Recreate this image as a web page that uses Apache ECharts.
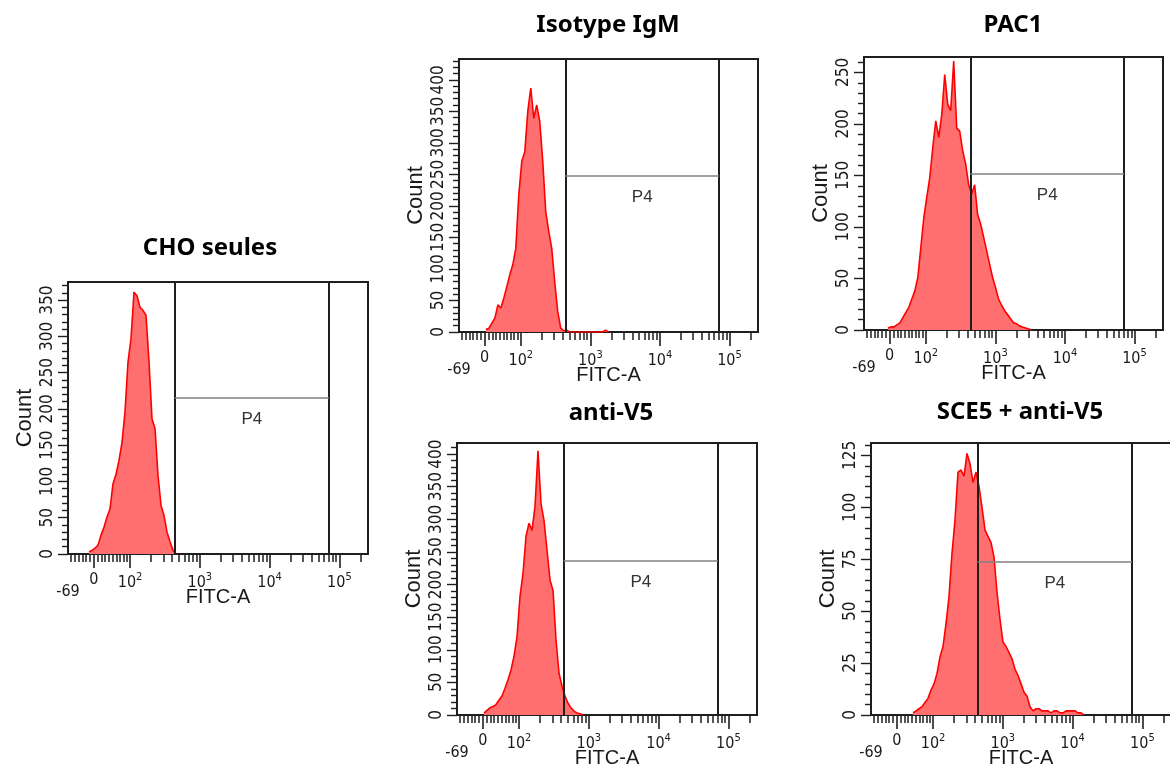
<!DOCTYPE html>
<html>
<head>
<meta charset="utf-8">
<title>FITC-A histograms</title>
<script src="https://cdn.jsdelivr.net/npm/echarts@6/dist/echarts.min.js"></script>
<style>
  html, body { margin: 0; padding: 0; background: #fff; }
  #main { width: 1170px; height: 776px; }
</style>
</head>
<body>
<div id="main"></div>
<script>
// titles of the five histograms
var panelTitles = ['CHO seules', 'Isotype IgM', 'PAC1', 'anti-V5', 'SCE5 + anti-V5'];

// y axis (Count) ranges and tick steps
var countMax = [375, 433, 265, 417, 131];
var countStep = [50, 50, 50, 50, 25];
var countMinorStep = [10, 10, 10, 10, 5];

// x axis (FITC-A) labels and ticks, in raw units
var xLabelValues = [-69, 0, 100, 1000, 10000, 100000];
var xDecades = [100, 1000, 10000, 100000];
var xMultiples = [2, 3, 4, 5, 6, 7, 8, 9];
var xLinearTicks = [-60, -50, -40, -30, -20, -10, 10, 20, 30, 40, 50, 60, 70, 80, 90];
var xLongTicks = [0, 100, 1000, 10000, 100000];

// histogram counts, one value per bin (bin width 0.043 on the display scale)
var binStep = 0.043;
var firstBin = [7, 9, 8, 9, 14];
var choCounts = [3, 5, 8, 12, 26, 37, 51, 62, 97, 110, 129, 154, 196, 265, 297, 361, 356, 340, 336, 329,
  265, 186, 173, 108, 67, 53, 30, 17, 5, 0];
var isoCounts = [4, 6, 14, 22, 43, 38, 54, 72, 91, 107, 133, 218, 271, 286, 350, 387, 339, 360, 334, 271,
  191, 160, 133, 80, 33, 6, 2, 3, 0, 0, 0, 0, 0, 0, 0, 0, 0, 0, 0, 0, 3, 0];
var pacCounts = [2, 3, 3, 5, 7, 12, 17, 22, 30, 38, 51, 80, 109, 129, 148, 177, 203, 187, 209, 248,
  219, 213, 261, 196, 193, 174, 161, 141, 132, 141, 112, 103, 90, 77, 64, 51, 41, 30, 24, 19,
  15, 11, 7, 6, 4, 3, 2, 1, 0];
var v5Counts = [3, 7, 11, 13, 16, 23, 29, 41, 54, 69, 90, 120, 182, 217, 274, 294, 283, 320, 405, 324,
  298, 253, 207, 191, 115, 64, 44, 29, 18, 11, 6, 3, 2, 0];
var sceCounts = [1, 2, 3, 4, 6, 8, 12, 15, 20, 28, 33, 44, 57, 78, 94, 117, 118, 115, 126, 121,
  112, 117, 110, 100, 89, 86, 83, 76, 59, 46, 35, 33, 30, 27, 22, 19, 15, 11, 9, 4,
  2, 3, 3, 2, 2, 2, 1, 2, 2, 1, 1, 2, 2, 2, 2, 1, 1, 0];
var allCounts = [choCounts, isoCounts, pacCounts, v5Counts, sceCounts];

// P4 gate (display scale) and the count level of its bar
var gateFrom = 2.64;
var gateTo = 4.85;
var gateLevel = [215, 248, 152, 236, 74];

// layout
var panelBoxes = [
  {left: 68, top: 282, width: 300, height: 272},
  {left: 459, top: 59, width: 299, height: 273},
  {left: 864, top: 57, width: 299, height: 273},
  {left: 457, top: 443, width: 300, height: 272},
  {left: 871, top: 443, width: 300, height: 272}
];
var titlePos = [[210, 248], [608, 25], [1013, 25], [611, 413], [1020, 412]];

var narrowFont = '"Liberation Sans Narrow", "DejaVu Sans Condensed", "Liberation Sans", Arial, sans-serif';
var plainFont = '"Liberation Sans", Arial, sans-serif';
var frameColor = '#1e1e1e';

// biexponential-like display transform (log above 100, near-linear around 0)
function toDisplay(v) {
  if (v >= 100) return Math.log10(v);
  var s = 80;
  var g = function (t) { return Math.log10((t + Math.sqrt(t * t + 4 * s * s)) / 2); };
  return 1.48 + (g(v) - g(0)) / (g(100) - g(0)) * 0.52;
}

var xMin = toDisplay(-69);
var xMax = 5.41;

function xMinorTickPos() {
  var list = xLinearTicks.map(toDisplay);
  xDecades.forEach(function (d) {
    xMultiples.forEach(function (m) {
      var u = toDisplay(m * d);
      if (u <= xMax) list.push(u);
    });
  });
  return list.filter(function (u) { return u >= xMin; });
}

var xLabelPos = xLabelValues.map(toDisplay);

function xLabelFormatter(val) {
  var best = 0;
  for (var i = 1; i < xLabelPos.length; i++) {
    if (Math.abs(xLabelPos[i] - val) < Math.abs(xLabelPos[best] - val)) best = i;
  }
  var v = xLabelValues[best];
  if (v < 0) return '{low|' + v + '}';
  if (v === 0) return '0';
  return '{base|10}{sup|' + Math.round(Math.log10(v)) + '}';
}

function rangeList(step, max, skip) {
  var list = [];
  for (var v = 0; v <= max; v += step) {
    if (!skip || v % skip !== 0) list.push(v);
  }
  return list;
}

function mainXAxis(i) {
  return {
    type: 'value', gridIndex: i, position: 'bottom', min: xMin, max: xMax,
    axisLine: {show: false, onZero: false},
    splitLine: {show: false},
    axisTick: {show: true, length: 8, customValues: xMinorTickPos(), lineStyle: {color: frameColor, width: 1.5}},
    axisLabel: {
      show: true, customValues: xLabelPos, formatter: xLabelFormatter, margin: 18,
      color: '#1a1a1a', fontFamily: narrowFont, fontSize: 16,
      rich: {
        base: {fontSize: 16, fontFamily: narrowFont, color: '#1a1a1a'},
        sup: {fontSize: 11, fontFamily: narrowFont, color: '#1a1a1a', padding: [0, 0, 10, 0]},
        low: {fontSize: 16, fontFamily: narrowFont, color: '#1a1a1a', padding: [12, 0, 0, 0]}
      }
    },
    name: 'FITC-A', nameLocation: 'middle', nameGap: 33, nameMoveOverlap: false,
    nameTextStyle: {fontFamily: plainFont, fontSize: 20, color: '#1a1a1a'}
  };
}

function longTickXAxis(i) {
  return {
    type: 'value', gridIndex: i, position: 'bottom', min: xMin, max: xMax,
    axisLine: {show: false, onZero: false},
    splitLine: {show: false},
    axisLabel: {show: false},
    axisTick: {show: true, length: 14, customValues: xLongTicks.map(toDisplay), lineStyle: {color: frameColor, width: 1.6}}
  };
}

function mainYAxis(i) {
  return {
    type: 'value', gridIndex: i, position: 'left', min: 0, max: countMax[i],
    axisLine: {show: false, onZero: false},
    splitLine: {show: false},
    axisTick: {show: true, length: 6, customValues: rangeList(countMinorStep[i], countMax[i], countStep[i]),
      lineStyle: {color: frameColor, width: 1.4}},
    axisLabel: {
      show: true, customValues: rangeList(countStep[i], countMax[i]), rotate: 90, margin: 12,
      color: '#1a1a1a', fontFamily: narrowFont, fontSize: 17
    },
    name: 'Count', nameLocation: 'middle', nameGap: 32, nameMoveOverlap: false,
    nameTextStyle: {fontFamily: plainFont, fontSize: 22, color: '#1a1a1a'}
  };
}

function longTickYAxis(i) {
  return {
    type: 'value', gridIndex: i, position: 'left', min: 0, max: countMax[i],
    axisLine: {show: false, onZero: false},
    splitLine: {show: false},
    axisLabel: {show: false},
    axisTick: {show: true, length: 10, customValues: rangeList(countStep[i], countMax[i]),
      lineStyle: {color: frameColor, width: 1.4}}
  };
}

// histogram + P4 gate
function histSeries(i) {
  var data = allCounts[i].map(function (c, j) {
    return [xMin + (firstBin[i] + j) * binStep, c];
  });
  return {
    type: 'line', xAxisIndex: 2 * i, yAxisIndex: 2 * i,
    symbol: 'none', silent: true,
    lineStyle: {color: '#ff0000', width: 1.6},
    areaStyle: {color: '#ff6f6f', opacity: 1},
    data: data,
    markLine: {
      silent: true, animation: false, symbol: ['none', 'none'],
      data: [
        {xAxis: gateFrom, lineStyle: {color: frameColor, width: 2, type: 'solid'}, label: {show: false}},
        {xAxis: gateTo, lineStyle: {color: frameColor, width: 2, type: 'solid'}, label: {show: false}},
        [
          {
            coord: [gateFrom, gateLevel[i]],
            lineStyle: {color: '#808080', width: 1.5, type: 'solid'},
            label: {show: true, formatter: 'P4', position: 'insideMiddleBottom', distance: 13,
              color: '#333', fontFamily: plainFont, fontSize: 17}
          },
          {coord: [gateTo, gateLevel[i]]}
        ]
      ]
    }
  };
}

function titleText(i) {
  return {
    type: 'text', x: titlePos[i][0], y: titlePos[i][1], silent: true,
    style: {
      text: panelTitles[i], fill: '#000',
      font: 'bold 24px "Noto Sans", "Open Sans", sans-serif',
      textAlign: 'center', textVerticalAlign: 'middle'
    }
  };
}

function buildOption() {
  var grid = [], xAxis = [], yAxis = [], series = [], graphic = [];
  panelBoxes.forEach(function (box, i) {
    grid.push({
      left: box.left, top: box.top, width: box.width, height: box.height,
      show: true, borderColor: frameColor, borderWidth: 2,
      containLabel: false, outerBoundsMode: 'none'
    });
    xAxis.push(mainXAxis(i), longTickXAxis(i));
    yAxis.push(mainYAxis(i), longTickYAxis(i));
    series.push(histSeries(i));
    graphic.push(titleText(i));
  });
  return {
    animation: false,
    backgroundColor: '#fff',
    grid: grid,
    xAxis: xAxis,
    yAxis: yAxis,
    series: series,
    graphic: graphic
  };
}

var myChart = echarts.init(document.getElementById('main'));
myChart.setOption(buildOption());
</script>
</body>
</html>
